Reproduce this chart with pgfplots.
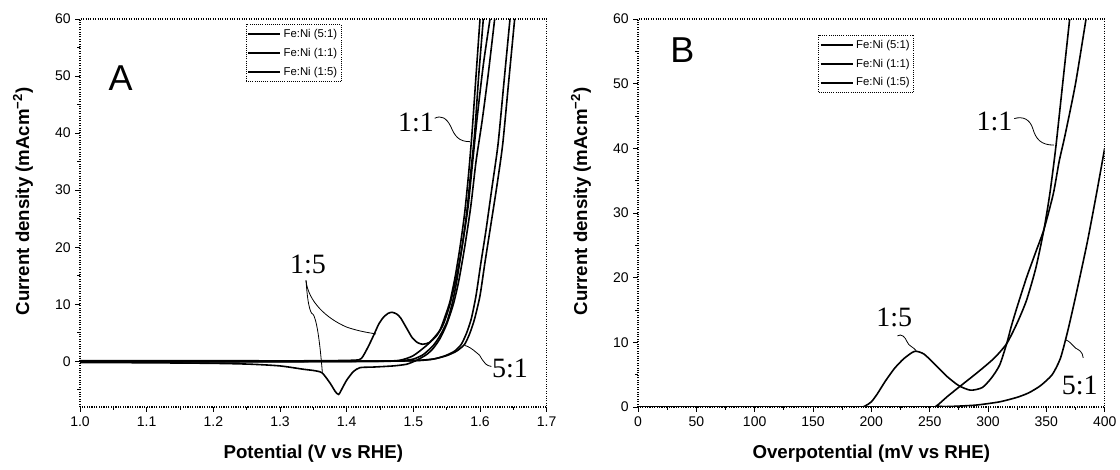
\documentclass[border=0pt]{standalone}
\usepackage{pgfplots}
\pgfplotsset{compat=1.18}
\usepackage{fontspec}
\setmainfont{Liberation Sans}
\newfontfamily\seriffont{Liberation Serif}
\begin{document}
\begin{tikzpicture}
\useasboundingbox (0,0) rectangle (840pt,352.5pt);
\pgfplotsset{
  panel/.style={
    anchor=south west, scale only axis, width=350pt, height=291pt,
    axis line style={densely dotted, line width=0.8pt},
    tick align=outside, xtick pos=bottom, ytick pos=left,
    major tick length=3.5pt, minor tick length=2pt,
    tick style={solid, black, line width=0.6pt},
    ticklabel style={font=\fontsize{10.5}{12}\selectfont},
    /pgf/number format/assume math mode=true,
    label style={font=\bfseries\fontsize{14}{16}\selectfont},
    xlabel style={at={(axis description cs:0.5,-0.121)}, anchor=center},
    ylabel style={at={(axis description cs:-0.122,0.53)}, anchor=center},
    legend style={draw=black, densely dotted, line width=0.6pt,
      font=\fontsize{8.5}{10}\selectfont, inner xsep=1pt, inner ysep=1.5pt,
      row sep=2.5pt, cells={anchor=west}},
    legend image code/.code={\draw[#1, solid] (0pt,0pt) -- (24pt,0pt);},
  },
  curve/.style={black, solid, line width=1.2pt, smooth, tension=0.4},
}
% ---------------- Panel A ----------------
\begin{axis}[panel, at={(60pt,47.25pt)},
  xmin=1.0, xmax=1.7, ymin=-8, ymax=60,
  xtick={1.0,1.1,...,1.7}, ytick={0,10,...,60},
  minor xtick={1.05,1.15,...,1.65},
  minor ytick={-5,5,15,25,35,45,55},
  xticklabel style={/pgf/number format/.cd, fixed, fixed zerofill, precision=1},
  xlabel={Potential (V vs RHE)},
  ylabel={Current density (mAcm\textsuperscript{−2})},
  legend style={at={(rel axis cs:0.355,0.987)}, anchor=north west},
]
% 5:1 forward
\addplot[curve] coordinates {(1.0,-0.1)(1.2,-0.05)(1.4,0)(1.48,0.05)(1.51,0.2)(1.53,0.4)(1.55,1)(1.565,1.8)(1.577,3)(1.585,5)(1.592,7.5)(1.6,11.5)(1.607,17)(1.615,23)(1.625,30.5)(1.634,38)(1.643,49)(1.652,60)};
\addlegendentry{Fe:Ni (5:1)}
% 1:1 forward
\addplot[curve] coordinates {(1.0,0)(1.3,0)(1.45,0.05)(1.48,0.2)(1.5,1)(1.52,2.8)(1.53,4)(1.54,5.5)(1.548,8)(1.555,10.5)(1.563,15)(1.57,20)(1.577,26)(1.583,33)(1.588,40)(1.594,50)(1.6,60)};
\addlegendentry{Fe:Ni (1:1)}
% 1:5 forward
\addplot[curve] coordinates {(1.0,0.1)(1.2,0.1)(1.35,0.1)(1.41,0.2)(1.422,0.5)(1.432,2.5)(1.441,4.7)(1.448,6.5)(1.455,7.7)(1.462,8.4)(1.468,8.6)(1.475,8.3)(1.481,7.6)(1.49,5.8)(1.498,4.2)(1.506,3.3)(1.514,3)(1.524,3.3)(1.535,4.5)(1.545,6.5)(1.555,10)(1.565,15)(1.573,20)(1.582,27)(1.589,35)(1.596,43)(1.605,52)(1.615,60)};
\addlegendentry{Fe:Ni (1:5)}
% reverse branches
\addplot[curve, forget plot] coordinates {(1.645,60)(1.636,49)(1.627,38)(1.618,30.5)(1.609,23)(1.601,17)(1.594,11.5)(1.587,7.5)(1.58,5)(1.572,3)(1.562,1.8)(1.548,1)(1.53,0.4)(1.5,0.1)(1.4,0)(1.0,-0.1)};
\addplot[curve, forget plot] coordinates {(1.605,60)(1.598,50)(1.592,40)(1.586,33)(1.58,26)(1.573,20)(1.565,14)(1.558,10)(1.55,6.8)(1.54,4.5)(1.53,2.8)(1.515,1.2)(1.5,0.4)(1.48,0.1)(1.45,0)(1.3,-0.05)(1.0,-0.1)};
\addplot[curve, forget plot] coordinates {(1.622,60)(1.612,50)(1.603,42)(1.594,35)(1.586,27)(1.577,20)(1.568,14)(1.56,10)(1.55,6.5)(1.54,4)(1.53,2.3)(1.52,1.2)(1.505,0.2)(1.49,-0.5)(1.47,-0.8)(1.44,-1)(1.42,-1.1)(1.41,-1.8)(1.4,-3.3)(1.393,-4.8)(1.388,-5.8)(1.383,-5.3)(1.375,-3.8)(1.363,-2)(1.35,-1.6)(1.336,-1.4)(1.3,-0.8)(1.256,-0.5)(1.2,-0.35)(1.1,-0.25)(1.0,-0.2)};
% annotations
\node[font=\fontsize{27}{30}\selectfont] at (axis cs:1.061,49.7) {A};
\node[font=\seriffont\fontsize{21}{24}\selectfont] at (axis cs:1.504,41.8) {1:1};
\node[font=\seriffont\fontsize{21}{24}\selectfont] at (axis cs:1.342,16.9) {1:5};
\node[font=\seriffont\fontsize{21}{24}\selectfont] at (axis cs:1.645,-1.3) {5:1};
\draw[line width=0.6pt] (axis cs:1.532,42.6) .. controls (axis cs:1.542,43.2) and (axis cs:1.550,42.6) .. (axis cs:1.556,41.2) .. controls (axis cs:1.562,39.5) and (axis cs:1.568,38.5) .. (axis cs:1.585,38.5);
\draw[line width=0.6pt] (axis cs:1.339,14.2) .. controls (axis cs:1.341,11) and (axis cs:1.343,9.5) .. (axis cs:1.347,8.5) .. controls (axis cs:1.355,8.3) and (axis cs:1.360,3) .. (axis cs:1.3635,-1.9);
\draw[line width=0.6pt] (axis cs:1.339,14.2) .. controls (axis cs:1.342,10.5) and (axis cs:1.37,7.5) .. (axis cs:1.40,6) .. controls (axis cs:1.42,5.2) and (axis cs:1.435,5) .. (axis cs:1.444,4.8);
\draw[line width=0.6pt] (axis cs:1.617,-0.9) .. controls (axis cs:1.602,-0.6) and (axis cs:1.603,1.2) .. (axis cs:1.594,1.6) .. controls (axis cs:1.588,2.2) and (axis cs:1.583,2.6) .. (axis cs:1.577,2.8);
\end{axis}
% ---------------- Panel B ----------------
\begin{axis}[panel, at={(478.5pt,47.25pt)},
  xmin=0, xmax=400, ymin=0, ymax=60,
  xtick={0,50,...,400}, ytick={0,10,...,60},
  minor x tick num=1, minor y tick num=1,
  xlabel={Overpotential (mV vs RHE)},
  ylabel={Current density (mAcm\textsuperscript{−2})},
  legend style={at={(rel axis cs:0.386,0.959)}, anchor=north west},
]
\addplot[curve] coordinates {(0,0)(200,0)(250,0.02)(270,0.1)(290,0.3)(310,0.8)(325,1.5)(335,2.2)(345,3.3)(355,5)(362,7.5)(368,11.5)(375,17)(385,25.4)(393,33)(400,40)};
\addlegendentry{Fe:Ni (5:1)}
\addplot[curve] coordinates {(0,0)(250,0)(256,0.2)(265,1.6)(276,3.2)(290,5.2)(305,7.5)(316,9.8)(325,13)(333,16.5)(341,21.5)(348,27.5)(353,33)(358,40)(364,50)(370,60)};
\addlegendentry{Fe:Ni (1:1)}
\addplot[curve] coordinates {(0,0)(150,0)(190,0)(195,0.2)(200,0.8)(205,2)(212,4)(220,6)(228,7.5)(237,8.6)(245,8.2)(255,6.5)(265,4.7)(275,3.3)(285,2.6)(295,3)(303,4.5)(310,6.5)(316,9.8)(320,12.5)(325,15.5)(333,20)(341,24)(348,27.5)(356,33)(361,38)(366,42)(375,50)(384,60)};
\addlegendentry{Fe:Ni (1:5)}
\node[font=\fontsize{27}{30}\selectfont] at (axis cs:38,55.2) {B};
\node[font=\seriffont\fontsize{21}{24}\selectfont] at (axis cs:305.6,44.2) {1:1};
\node[font=\seriffont\fontsize{21}{24}\selectfont] at (axis cs:219.7,13.8) {1:5};
\node[font=\seriffont\fontsize{21}{24}\selectfont] at (axis cs:378.6,3.4) {5:1};
\draw[line width=0.6pt] (axis cs:322.5,44.6) .. controls (axis cs:330,45) and (axis cs:336,44.5) .. (axis cs:338.5,43) .. controls (axis cs:341,41.5) and (axis cs:345,40.5) .. (axis cs:356.5,40.5);
\draw[line width=0.6pt] (axis cs:222.3,11) .. controls (axis cs:226,11.4) and (axis cs:229,10.8) .. (axis cs:230.6,10.1) .. controls (axis cs:232,9.4) and (axis cs:236,9.3) .. (axis cs:238.5,8.7);
\draw[line width=0.6pt] (axis cs:381.6,7.6) .. controls (axis cs:381,8.6) and (axis cs:378,8.8) .. (axis cs:375.1,9.1) .. controls (axis cs:372,9.6) and (axis cs:370,10.2) .. (axis cs:366.5,10.4);
\end{axis}
\end{tikzpicture}
\end{document}
